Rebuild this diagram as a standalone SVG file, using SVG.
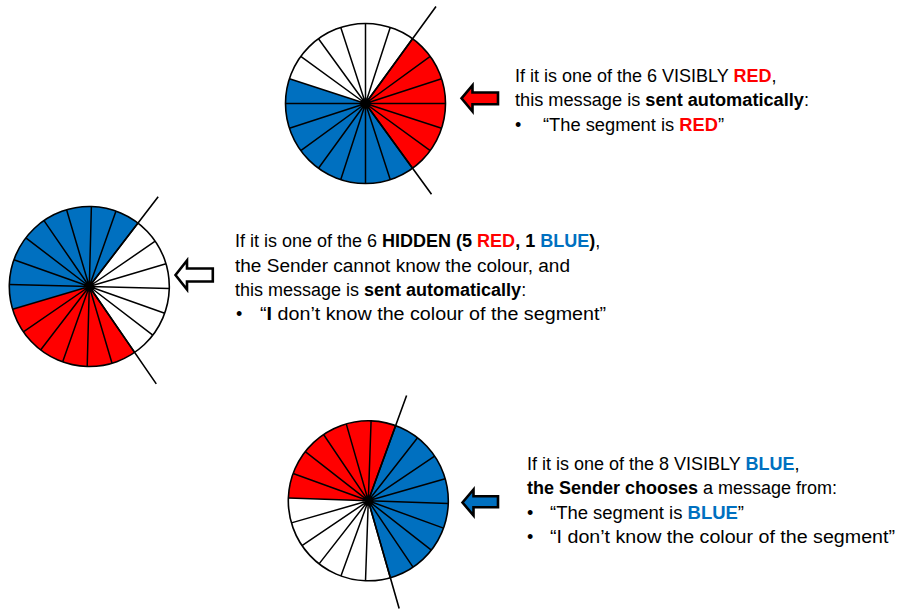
<svg xmlns="http://www.w3.org/2000/svg" width="901" height="610" viewBox="0 0 901 610">
<defs>
<style>
.bg{fill:#fff}
.red{fill:#FF0000}
.blue{fill:#0070C0}
.sp{stroke:#000;stroke-width:1.5;fill:none}
.ray{stroke:#000;stroke-width:1.6;fill:none}
.rim{fill:none;stroke:#000;stroke-width:1.6}
.t{font-family:"Liberation Sans",Arial,sans-serif;font-size:18px;fill:#000}
.b{font-weight:bold}
.arr{stroke:#000;stroke-width:2.6;stroke-linejoin:miter}
</style>
<g id="spokes">
<path class="sp" d="M0,0V-80M0,0L24.72,-76.08M0,0L47.02,-64.72M0,0L64.72,-47.02M0,0L76.08,-24.72M0,0H80M0,0L76.08,24.72M0,0L64.72,47.02M0,0L47.02,64.72M0,0L24.72,76.08M0,0V80M0,0L-24.72,76.08M0,0L-47.02,64.72M0,0L-64.72,47.02M0,0L-76.08,24.72M0,0H-80M0,0L-76.08,-24.72M0,0L-64.72,-47.02M0,0L-47.02,-64.72M0,0L-24.72,-76.08"/>
</g>
</defs>

<g id="wheel-top" transform="translate(365.5,103.5)">
<circle class="bg" r="80"/>
<path class="red" d="M0,0L47.02,-64.72A80,80 0 0 1 47.02,64.72Z"/>
<path class="blue" d="M0,0L47.02,64.72A80,80 0 0 1 -76.08,-24.72Z"/>
<use href="#spokes"/>
<circle class="rim" r="80"/>
<path class="ray" d="M0,0L70.5,-97M0,0L66,90.8"/>
<circle r="3.2" fill="#000"/>
</g>

<g id="wheel-mid" transform="translate(89.3,286.5) rotate(1.5)">
<circle class="bg" r="80"/>
<path class="blue" d="M0,0L-76.08,24.72A80,80 0 0 1 47.02,-64.72Z"/>
<path class="red" d="M0,0L47.02,64.72A80,80 0 0 1 -76.08,24.72Z"/>
<use href="#spokes"/>
<circle class="rim" r="80"/>
<path class="ray" d="M0,0L66.5,-91.5M0,0L69.5,95.6"/>
<circle r="3.2" fill="#000"/>
</g>

<g id="wheel-bot" transform="translate(368.3,500.8) rotate(2)">
<circle class="bg" r="80"/>
<path class="blue" d="M0,0L24.72,-76.08A80,80 0 0 1 24.72,76.08Z"/>
<path class="red" d="M0,0L-80,0A80,80 0 0 1 24.72,-76.08Z"/>
<use href="#spokes"/>
<circle class="rim" r="80"/>
<path class="ray" d="M0,0L34.6,-106.5M0,0L34.6,106.5"/>
<circle r="3.2" fill="#000"/>
</g>

<g id="connectors">
<polygon class="arr red" points="461.5,98.3 472.5,85.2 472.5,92.5 498,92.5 498,104.2 472.5,104.2 472.5,111.5"/>
<polygon class="arr" fill="#fff" stroke-width="3" points="175.5,275 187,260.5 187,268.5 212.8,268.5 212.8,281.5 187,281.5 187,289.5"/>
<polygon class="arr blue" points="462.5,502.5 473.5,489.5 473.5,496.2 498,496.2 498,507.2 473.5,507.2 473.5,515.5"/>
</g>

<g id="text-top">
<text class="t" x="515" y="82">If it is one of the 6 VISIBLY <tspan class="b red">RED</tspan>,</text>
<text class="t" x="515" y="106.4" textLength="294" lengthAdjust="spacingAndGlyphs">this message is <tspan class="b">sent automatically</tspan>:</text>
<text class="t" x="515" y="130.8">•</text>
<text class="t" x="543" y="130.8" textLength="181" lengthAdjust="spacingAndGlyphs">“The segment is <tspan class="b red">RED</tspan>”</text>
</g>

<g id="text-mid">
<text class="t" x="235" y="247.3" font-size="17.5">If it is one of the 6 <tspan class="b">HIDDEN (5 </tspan><tspan class="b red">RED</tspan><tspan class="b">, 1 </tspan><tspan class="b blue">BLUE</tspan><tspan class="b">)</tspan>,</text>
<text class="t" x="235" y="271.6" textLength="335" lengthAdjust="spacingAndGlyphs">the Sender cannot know the colour, and</text>
<text class="t" x="235" y="296">this message is <tspan class="b">sent automatically</tspan>:</text>
<text class="t" x="236" y="320.3">•</text>
<text class="t" x="260" y="320.3" textLength="346" lengthAdjust="spacingAndGlyphs">“<tspan class="b">I</tspan> don’t know the colour of the segment”</text>
</g>

<g id="text-bot">
<text class="t" x="527" y="470" font-size="17.7">If it is one of the 8 VISIBLY <tspan class="b blue">BLUE</tspan>,</text>
<text class="t" x="527" y="494.3"><tspan class="b">the Sender chooses</tspan> a message from:</text>
<text class="t" x="527" y="518.6">•</text>
<text class="t" x="550" y="518.6" textLength="194" lengthAdjust="spacingAndGlyphs">“The segment is <tspan class="b blue">BLUE</tspan>”</text>
<text class="t" x="527" y="543">•</text>
<text class="t" x="550" y="543" textLength="345" lengthAdjust="spacingAndGlyphs">“I don’t know the colour of the segment”</text>
</g>
</svg>
